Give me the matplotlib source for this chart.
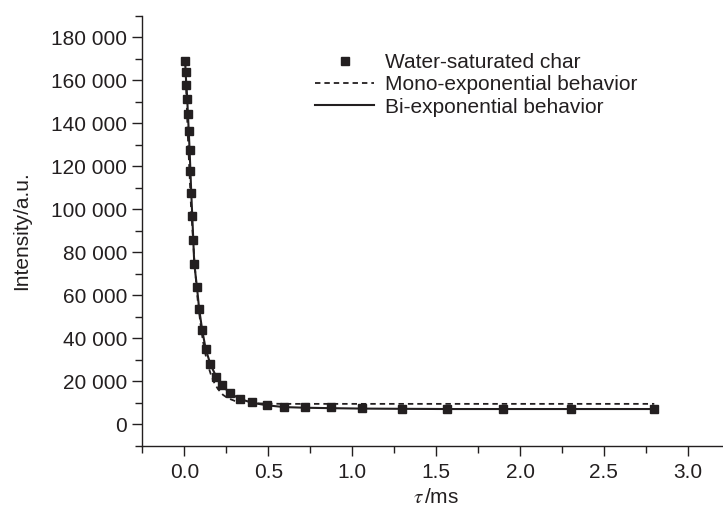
import numpy as np
import matplotlib
matplotlib.use("Agg")
from matplotlib import pyplot as plt
from matplotlib.ticker import MultipleLocator, FuncFormatter

plt.rcParams['font.family'] = ['Liberation Sans', 'DejaVu Sans']
plt.rcParams['mathtext.fontset'] = 'stix'

ink = '#231f20'

# measured echo decay (tau in ms, intensity in a.u.)
tau = [0.005, 0.007, 0.012, 0.017, 0.021, 0.026, 0.031, 0.036, 0.041, 0.047,
       0.053, 0.059, 0.075, 0.088, 0.106, 0.127, 0.155, 0.190, 0.226, 0.274,
       0.334, 0.405, 0.495, 0.596, 0.721, 0.876, 1.061, 1.296, 1.567, 1.901,
       2.306, 2.801]
intensity = [169000, 163700, 157800, 151200, 144300, 136400, 127600, 117800,
             107400, 96900, 85700, 74600, 63700, 53600, 43900, 34900, 27900,
             22100, 18100, 14400, 11900, 10400, 9100, 7900, 7900, 7900, 7400,
             7100, 6900, 6900, 6900, 6900]

# fitted curves
mono_tau = [0.005, 0.02, 0.04, 0.06, 0.08, 0.10, 0.12, 0.14, 0.16, 0.18, 0.20,
            0.23, 0.26, 0.30, 0.35, 0.40, 0.50, 0.60, 0.80, 1.00, 2.80]
mono_int = [169000, 135100, 100400, 75400, 57200, 44100, 34500, 27600, 22600,
            19000, 16400, 13700, 12100, 10900, 10100, 9800, 9600, 9500, 9500,
            9500, 9500]

bi_tau = tau
bi_int = [169000, 163700, 157800, 151200, 144300, 136400, 127600, 117800,
          107400, 96900, 85700, 74600, 63700, 53600, 43900, 35000, 27900,
          22100, 18000, 14300, 11700, 10000, 8800, 8000, 7700, 7500, 7300,
          7200, 7100, 7100, 7100, 7100]

fig = plt.figure(figsize=(7.23, 5.11), dpi=100)
ax = fig.add_axes([0.197, 0.1276, 0.8124, 0.8415])

ax.plot(mono_tau, mono_int, color=ink, lw=1.3, dashes=(3, 2.2),
        label='Mono-exponential behavior')
ax.plot(bi_tau, bi_int, color=ink, lw=1.5, label='Bi-exponential behavior')
ax.plot(tau, intensity, ls='none', marker='s', ms=5.2, color=ink,
        label='Water-saturated char')

ax.set_xlim(-0.25, 3.25)
ax.set_ylim(-10000, 190000)
ax.xaxis.set_major_locator(MultipleLocator(0.5))
ax.xaxis.set_minor_locator(MultipleLocator(0.25))
ax.yaxis.set_major_locator(MultipleLocator(20000))
ax.yaxis.set_minor_locator(MultipleLocator(10000))
ax.yaxis.set_major_formatter(FuncFormatter(lambda v, p: format(int(v), ',').replace(',', ' ')))
ax.xaxis.set_major_formatter(FuncFormatter(lambda v, p: '%.1f' % v))

for s in ['top', 'right']:
    ax.spines[s].set_visible(False)
for s in ['left', 'bottom']:
    ax.spines[s].set_linewidth(1.0)
    ax.spines[s].set_color(ink)

ax.tick_params(which='major', length=7.5, width=1.0, color=ink, labelsize=15,
               labelcolor=ink)
ax.tick_params(which='minor', length=5, width=1.0, color=ink)
ax.tick_params(axis='x', pad=5)
ax.tick_params(axis='y', pad=3.5)

ax.set_ylabel('Intensity/a.u.', fontsize=15, color=ink, labelpad=14)
ax.set_xlabel(r'$\tau\,$/ms', fontsize=15, color=ink, labelpad=4)

h, l = ax.get_legend_handles_labels()
order = [2, 0, 1]
ax.legend([h[i] for i in order], [l[i] for i in order], loc='upper left',
          bbox_to_anchor=(315 / 723, 1 - 53 / 511), bbox_transform=fig.transFigure,
          frameon=False, fontsize=15, numpoints=1, handlelength=2.85,
          handletextpad=0.5, labelspacing=0.16, borderpad=0, borderaxespad=0,
          labelcolor=ink)

fig.savefig('out.png', dpi=100)
